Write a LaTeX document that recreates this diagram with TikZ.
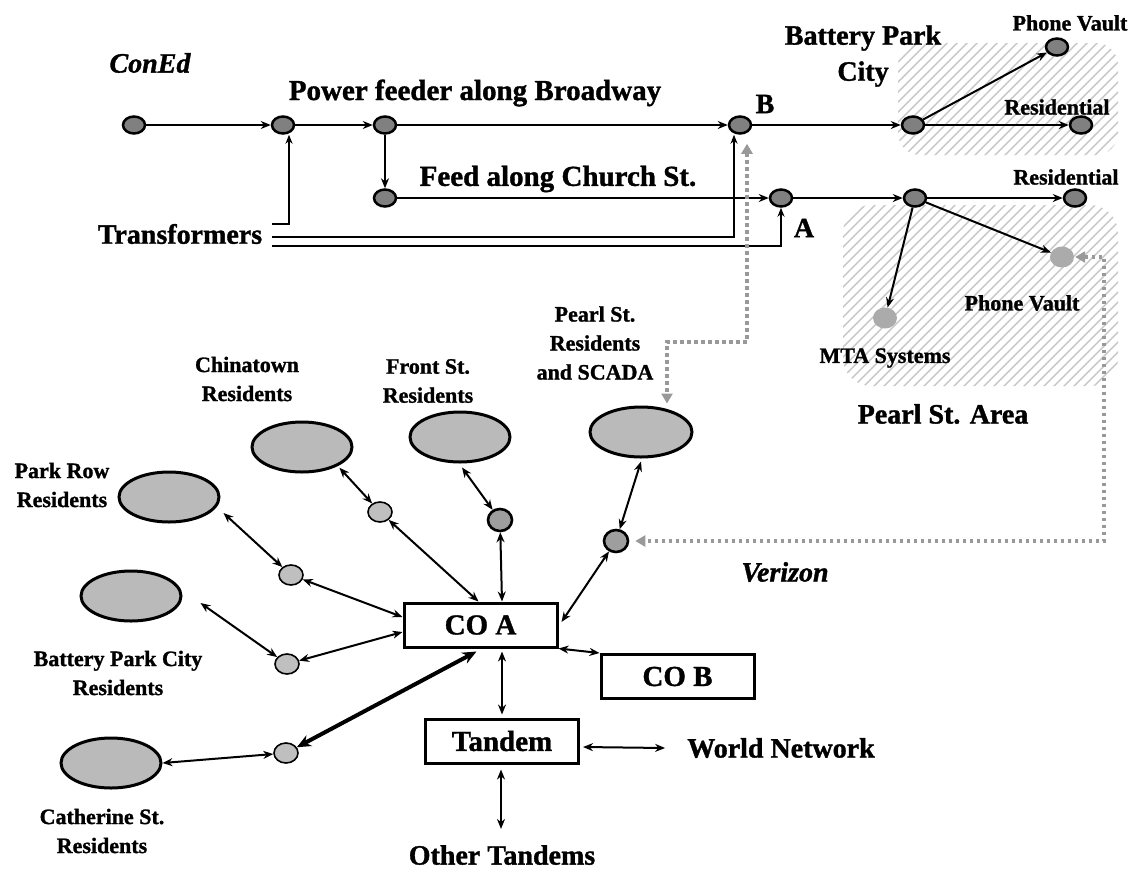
\documentclass[tikz,border=0pt]{standalone}
\usepackage{fontspec}
\setmainfont{Liberation Serif}[BoldFeatures={FakeBold=1.2},BoldItalicFeatures={FakeBold=1.2}]
\usetikzlibrary{arrows.meta,shapes.geometric,calc}
\begin{document}
\begin{tikzpicture}[x=1pt,y=-1pt,
  pnode/.style={ellipse, draw=black, line width=2.5pt, fill=black!50, minimum width=22pt, minimum height=17pt, inner sep=0pt},
  lnode/.style={ellipse, fill=black!33, minimum width=24pt, minimum height=21pt, inner sep=0pt},
  res/.style={ellipse, draw=black, line width=3pt, fill=black!27, minimum width=100pt, minimum height=50pt, inner sep=0pt},
  snode/.style={ellipse, draw=black, line width=1.6pt, fill=black!25, minimum width=24pt, minimum height=20pt, inner sep=0pt},
  dnode/.style={ellipse, draw=black, line width=2.6pt, fill=black!38, minimum width=24pt, minimum height=22pt, inner sep=0pt},
  cobox/.style={draw=black, line width=3pt, minimum width=153pt, minimum height=44pt, inner sep=0pt, font=\bfseries\fontsize{29}{30}\selectfont},
  big/.style={font=\bfseries\fontsize{28}{30}\selectfont, inner sep=0pt},
  bigit/.style={font=\bfseries\itshape\fontsize{28}{30}\selectfont, inner sep=0pt},
  small/.style={font=\bfseries\fontsize{22}{29}\selectfont, align=center, inner sep=0pt},
  pw/.style={line width=2pt, -{Stealth[length=10pt,width=8pt]}},
  tw/.style={line width=1.5pt, -{Stealth[length=9pt,width=7pt]}},
  cn/.style={line width=2pt, {Stealth[length=10pt,width=8pt]}-{Stealth[length=10pt,width=8pt]}},
  cnb/.style={line width=4pt, {Stealth[length=14pt,width=12pt]}-{Stealth[length=14pt,width=12pt]}},
  dotc/.style={draw=black!40, line width=3.5pt, dash pattern=on 3.5pt off 3.5pt, {Triangle[length=10pt,width=11pt]}-{Triangle[length=10pt,width=11pt]}},
  hatch/.style={draw=black!22, line width=1.4pt}
]
\useasboundingbox (0,0) rectangle (1132,871);
\fill[white] (0,0) rectangle (1132,871);

% hatched areas
\begin{scope}
\clip[rounded corners=22pt] (898,43) rectangle (1118,155);
\foreach \a in {400,410,...,1150} \draw[hatch] (\a,400) -- ++(400,-400);
\end{scope}
\begin{scope}
\clip[rounded corners=28pt] (843,205) rectangle (1118,386);
\foreach \a in {400,410,...,1150} \draw[hatch] (\a,400) -- ++(400,-400);
\end{scope}

% power nodes
\node[pnode] (n1) at (134,125) {};
\node[pnode] (n2) at (283,125) {};
\node[pnode] (n3) at (385,125) {};
\node[pnode] (B) at (740,125) {};
\node[pnode] (h1) at (913,125) {};
\node[pnode] (pv1) at (1057,47) {};
\node[pnode] (r1) at (1081,125) {};
\node[pnode] (n4) at (385,198) {};
\node[pnode] (A) at (781,198) {};
\node[pnode] (h2) at (915,198) {};
\node[pnode] (r2) at (1075,198) {};
\node[lnode] (pv2) at (1062,257) {};
\node[lnode] (mta) at (885,318) {};

% power labels
\node[bigit] (coned) at (150,63) {ConEd};
\node[big, font=\bfseries\fontsize{29}{30}\selectfont] (pf) at (475,93) {Power feeder along Broadway};
\node[big, font=\bfseries\fontsize{29}{30}\selectfont] (fc) at (558,179) {Feed along Church St.};
\node[big] (tr) at (180,234) {Transformers};
\node[big] (lb) at (765,104) {B};
\node[big] (la) at (804,228) {A};
\node[big, align=center, font=\bfseries\fontsize{28}{36}\selectfont] (bpc) at (863,56) {Battery Park\\City};
\node[small] (lpv1) at (1070,23) {Phone Vault};
\node[small] (lr1) at (1057,107) {Residential};
\node[small] (lr2) at (1066,177) {Residential};
\node[small] (lpv2) at (1022,303) {Phone Vault};
\node[small] (lmta) at (885,358) {MTA Systems};
\node[big] (psa) at (943,414) {Pearl St. Area};

% power connectors
\draw[pw] (n1) -- (n2);
\draw[pw] (n2) -- (n3);
\draw[pw] (n3) -- (B);
\draw[pw] (n3) -- (n4);
\draw[pw] (n4) -- (A);
\draw[pw] (B) -- (h1);
\draw[pw] (h1) -- (pv1);
\draw[pw] (h1) -- (r1);
\draw[pw] (A) -- (h2);
\draw[pw] (h2) -- (r2);
\draw[pw] (h2) -- (pv2);
\draw[pw] (h2) -- (mta);

\coordinate (t1) at ($(tr.east)+(10,-10)$);
\coordinate (t2) at ($(tr.east)+(10,3)$);
\coordinate (t3) at ($(tr.east)+(10,12)$);
\draw[tw] (t1) -| ([xshift=6pt]n2.south);
\draw[tw] (t2) -| ([xshift=-6pt]B.south);
\draw[tw] (t3) -| (A.south);

% telecom nodes
\node[res] (pr) at (169,497) {};
\node[res] (bp) at (131,596) {};
\node[res] (cat) at (111,763) {};
\node[res] (ch) at (302,447) {};
\node[res] (fr) at (460,437) {};
\node[res, minimum width=102pt] (pe) at (641,432) {};
\node[snode] (prs) at (291,575) {};
\node[snode] (bps) at (287,664) {};
\node[snode] (cas) at (286,753) {};
\node[snode] (chs) at (380,512) {};
\node[dnode] (frs) at (500,520) {};
\node[dnode] (pn) at (616,541) {};
\node[cobox] (coa) at (480.5,625) {CO A};
\node[cobox] (cob) at (677.5,676.5) {CO B};
\node[cobox] (tan) at (502,741) {Tandem};

% telecom labels
\node[small] (lpr) at (62,485) {Park Row\\Residents};
\node[small] (lbp) at (118,673) {Battery Park City\\Residents};
\node[small] (lcat) at (102,831) {Catherine St.\\Residents};
\node[small] (lch) at (247,379) {Chinatown\\Residents};
\node[small] (lfr) at (428,381) {Front St.\\Residents};
\node[small] (lpe) at (595,343) {Pearl St.\\Residents\\and SCADA};
\node[bigit] (lver) at (785,572) {Verizon};
\node[big] (wn) at (781,748) {World Network};
\node[big] (ot) at (502,855) {Other Tandems};

% telecom connectors
\draw[cn] ($(pr.east)+(3,16)$) -- (prs);
\draw[cn] (prs) -- ($(coa.west)+(0,-8)$);
\draw[cn] ($(bp.east)+(18,7)$) -- (bps);
\draw[cn] (bps) -- ($(coa.west)+(0,7)$);
\draw[cn] (cat.east) -- (cas);
\draw[cnb] (cas) -- ($(coa.south)+(-4,3)$);
\draw[cn] ($(ch.south east)+(1,2)$) -- (chs);
\draw[cn] (chs) -- ($(coa.north)+(-2,0)$);
\draw[cn] ($(fr.south)+(2,4)$) -- (frs);
\draw[cn] (frs) -- ($(coa.north)+(21.5,0)$);
\draw[cn] ($(pe.south)+(0,3)$) -- (pn);
\draw[cn] (pn) -- ($(coa.east)+(3,-3)$);
\draw[cn] (coa.south east) -- (cob.north west);
\draw[cn] ($(coa.south)+(21.5,3)$) -- ($(tan.north)+(0,-3)$);
\draw[cn] ($(tan.east)+(3,6)$) -- ($(wn.west)+(-22,0)$);
\draw[cn] ($(tan.south)+(-1,5)$) -- ($(ot.north)+(-1,-16)$);

% dotted links
\coordinate (dc1) at (667,342);
\coordinate (dc2) at (1104,257);
\draw[dotc] ([xshift=7pt,yshift=-9pt]B.south) |- (dc1) -- ([xshift=26pt,yshift=2pt]pe.north);
\draw[dotc] ([xshift=1pt]pv2.east) -- (dc2) |- ([xshift=6pt]pn.east);
\end{tikzpicture}
\end{document}
